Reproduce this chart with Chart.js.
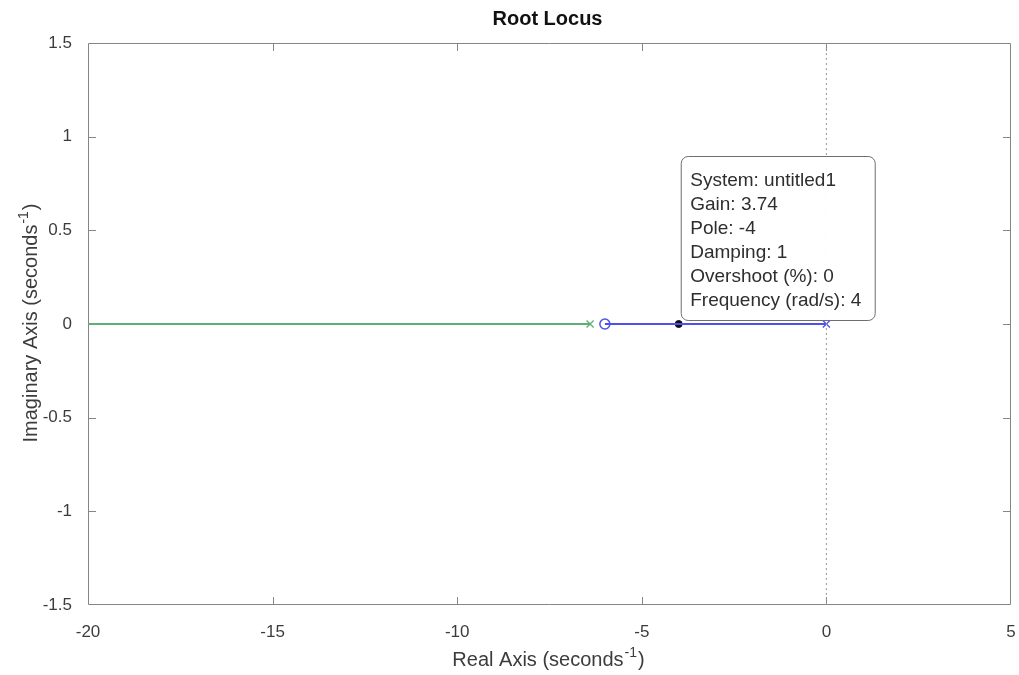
<!DOCTYPE html>
<html>
<head>
<meta charset="utf-8">
<title>Root Locus</title>
<script src="https://cdn.jsdelivr.net/npm/chart.js@4.4.1/dist/chart.umd.min.js"></script>
<style>
  html, body { margin: 0; padding: 0; background: #fff; }
  #wrap { width: 1019px; height: 675px; position: relative; }
</style>
</head>
<body>
<div id="wrap"><canvas id="rlocus"></canvas></div>
<script>
// --- Data ---
const xTicks = [-20, -15, -10, -5, 0, 5];
const yTicks = [-1.5, -1, -0.5, 0, 0.5, 1, 1.5];

// locus branches along the real axis (real part, imaginary part)
const branch1Re = [-20, -6.4];
const branch1Im = [0, 0];
const branch2Re = [-6, 0];
const branch2Im = [0, 0];

// open-loop poles and zeros
const poles1Re = [-6.4];
const poles2Re = [0];
const zerosRe = [-6];

// selected point on the locus and its data tip
const selRe = [-4];
const selIm = [0];
const tipLines = [
  'System: untitled1',
  'Gain: 3.74',
  'Pole: -4',
  'Damping: 1',
  'Overshoot (%): 0',
  'Frequency (rad/s): 4'
];

const GREEN = '#5fae77';
const BLUE = '#4f4ff2';
const AXIS = '#858585';
const TEXT = '#3c3c3c';
const FONT = '"Liberation Sans", Arial, sans-serif';

const pts = (re, im) => re.map((r, i) => ({ x: r, y: im ? im[i] : 0 }));

// --- Plugin: box, inner ticks, titles, data tip ---
const decorations = {
  id: 'decorations',
  beforeDatasetsDraw(chart) {
    const { ctx, chartArea: a, scales: { x, y } } = chart;
    ctx.save();
    ctx.strokeStyle = AXIS;
    ctx.lineWidth = 1;
    ctx.beginPath();
    ctx.rect(a.left + 0.5, a.top + 0.5, a.right - a.left - 1, a.bottom - a.top - 1);
    ctx.stroke();
    const len = 8;
    ctx.beginPath();
    // inner tick marks on all four sides, skipping the box corners
    xTicks.slice(1, -1).forEach(v => {
      const px = Math.round(x.getPixelForValue(v)) + 0.5;
      ctx.moveTo(px, a.bottom); ctx.lineTo(px, a.bottom - len);
      ctx.moveTo(px, a.top); ctx.lineTo(px, a.top + len);
    });
    yTicks.slice(1, -1).forEach(v => {
      const py = Math.round(y.getPixelForValue(v)) + 0.5;
      ctx.moveTo(a.left, py); ctx.lineTo(a.left + len, py);
      ctx.moveTo(a.right, py); ctx.lineTo(a.right - len, py);
    });
    ctx.stroke();
    ctx.restore();
  },
  afterDraw(chart) {
    const { ctx, chartArea: a, scales: { x, y } } = chart;
    const cx = (a.left + a.right) / 2;
    ctx.save();

    // title
    ctx.fillStyle = '#111';
    ctx.font = 'bold 20px ' + FONT;
    ctx.textAlign = 'center';
    ctx.textBaseline = 'middle';
    ctx.fillText('Root Locus', cx - 2, 19);

    // axis title with superscript
    const axisTitle = (label, px, py, rot) => {
      ctx.save();
      ctx.translate(px, py);
      ctx.rotate(rot);
      ctx.fillStyle = TEXT;
      ctx.textBaseline = 'alphabetic';
      ctx.textAlign = 'left';
      const main = label + ' (seconds';
      ctx.font = '20px ' + FONT;
      const w1 = ctx.measureText(main).width;
      ctx.font = '14px ' + FONT;
      const w2 = ctx.measureText('-1').width;
      ctx.font = '20px ' + FONT;
      const w3 = ctx.measureText(')').width;
      let sx = -(w1 + w2 + w3) / 2;
      ctx.fillText(main, sx, 7);
      ctx.font = '14px ' + FONT;
      ctx.fillText('-1', sx + w1 + 1, -2);
      ctx.font = '20px ' + FONT;
      ctx.fillText(')', sx + w1 + w2 + 2, 7);
      ctx.restore();
    };
    axisTitle('Real Axis', cx - 2, 659, 0);
    axisTitle('Imaginary Axis', 30, (a.top + a.bottom) / 2, -Math.PI / 2);

    // data tip anchored at the selected point
    const px = x.getPixelForValue(selRe[0]);
    const py = y.getPixelForValue(selIm[0]);
    const bx = px + 2.5, by = py - 167.5, bw = 194, bh = 164;
    ctx.beginPath();
    ctx.roundRect(bx, by, bw, bh, 7);
    ctx.fillStyle = 'rgba(255,255,255,0.96)';
    ctx.fill();
    ctx.strokeStyle = '#6e6e6e';
    ctx.lineWidth = 1;
    ctx.stroke();
    ctx.fillStyle = '#2e2e2e';
    ctx.font = '19px ' + FONT;
    ctx.textAlign = 'left';
    ctx.textBaseline = 'middle';
    tipLines.forEach((t, i) => ctx.fillText(t, bx + 9, by + 24 + i * 24));
    ctx.restore();
  }
};

new Chart(document.getElementById('rlocus'), {
  type: 'scatter',
  data: {
    datasets: [
      {
        // imaginary axis reference line
        data: [{ x: 0, y: -1.5 }, { x: 0, y: 1.5 }],
        showLine: true, borderColor: '#9a9a9a', borderWidth: 1,
        borderDash: [2, 3], pointRadius: 0
      },
      {
        data: pts(branch1Re, branch1Im),
        showLine: true, borderColor: GREEN, borderWidth: 1.8, pointRadius: 0
      },
      {
        data: pts(branch2Re, branch2Im),
        showLine: true, borderColor: BLUE, borderWidth: 1.8, pointRadius: 0
      },
      {
        data: pts(poles1Re),
        pointStyle: 'crossRot', pointRadius: 5, borderColor: GREEN, borderWidth: 1.3
      },
      {
        data: pts(poles2Re),
        pointStyle: 'crossRot', pointRadius: 5, borderColor: BLUE, borderWidth: 1.3
      },
      {
        data: pts(zerosRe),
        pointStyle: 'circle', pointRadius: 5, borderColor: BLUE,
        backgroundColor: 'rgba(255,255,255,0)', borderWidth: 1.5
      },
      {
        data: pts(selRe, selIm),
        pointStyle: 'circle', pointRadius: 3.5, borderColor: '#111',
        backgroundColor: '#111', borderWidth: 1
      }
    ]
  },
  options: {
    responsive: true,
    maintainAspectRatio: false,
    animation: false,
    events: [],
    layout: { padding: { top: 43, right: 8, left: 0, bottom: 0 } },
    plugins: {
      legend: { display: false },
      tooltip: { enabled: false },
      title: { display: false }
    },
    scales: {
      x: {
        type: 'linear', min: -20, max: 5,
        grid: { display: false },
        border: { display: false },
        afterBuildTicks: s => { s.ticks = xTicks.map(v => ({ value: v })); },
        afterFit: s => { s.height = 70; s.paddingLeft = 0; s.paddingRight = 0; },
        ticks: {
          color: TEXT, padding: 9, maxRotation: 0,
          font: { family: FONT, size: 17 },
          callback: v => String(v)
        }
      },
      y: {
        type: 'linear', min: -1.5, max: 1.5,
        grid: { display: false },
        border: { display: false },
        afterBuildTicks: s => { s.ticks = yTicks.map(v => ({ value: v })); },
        afterFit: s => { s.width = 88; s.paddingTop = 0; s.paddingBottom = 0; },
        ticks: {
          color: TEXT, padding: 8,
          font: { family: FONT, size: 17 },
          callback: v => String(v)
        }
      }
    }
  },
  plugins: [decorations]
});
</script>
</body>
</html>
